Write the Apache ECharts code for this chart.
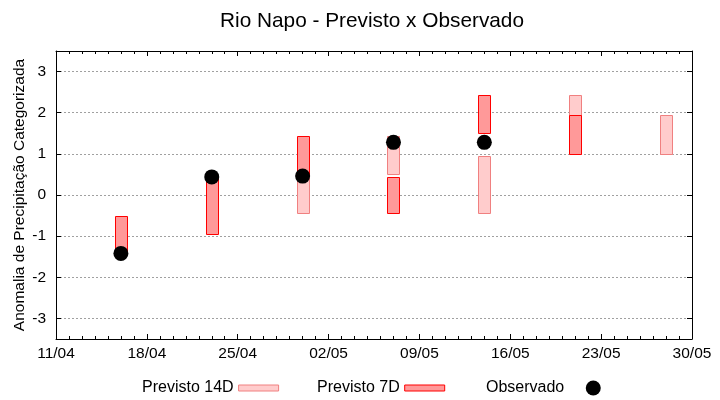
<!DOCTYPE html>
<html><head><meta charset="utf-8">
<script src="https://cdn.jsdelivr.net/npm/echarts@6/dist/echarts.min.js"></script>
<style>html,body{margin:0;padding:0;background:#fff}#c{width:720px;height:400px}</style>
</head><body><div id="c"></div>
<script>
// ---- data ----
const startDate = '11/04';
const xTickLabels = ['11/04','18/04','25/04','02/05','09/05','16/05','23/05','30/05'];
const dates = ['16/04','23/04','30/04','07/05','14/05','21/05','28/05'];
const prev14Low  = [null, null, -0.45, 0.50, -0.44, 1.00, 1.00];
const prev14High = [null, null,  0.45, 1.43,  0.94, 2.43, 1.94];
const prev7Low   = [-1.40, -0.96, 0.45, -0.45, 1.50, 1.00, null];
const prev7High  = [-0.50,  0.45, 1.43,  0.43, 2.43, 1.94, null];
const observed   = [-1.42, 0.44, 0.46, 1.28, 1.28, null, null];

function dayIndex(s){
  const a = s.split('/').map(Number), b = startDate.split('/').map(Number);
  return Math.round((Date.UTC(2024, a[1]-1, a[0]) - Date.UTC(2024, b[1]-1, b[0])) / 86400000);
}
const xMax = dayIndex(xTickLabels[xTickLabels.length-1]);

function rangeData(lo, hi){
  const out = [];
  dates.forEach((d,i)=>{ if(lo[i]!=null && hi[i]!=null) out.push([dayIndex(d), lo[i], hi[i]]); });
  return out;
}
const obsData = [];
dates.forEach((d,i)=>{ if(observed[i]!=null) obsData.push([dayIndex(d), observed[i]]); });

function barRenderer(fill, stroke){
  return function(params, api){
    const x = api.value(0), lo = api.value(1), hi = api.value(2);
    const p1 = api.coord([x, hi]), p2 = api.coord([x, lo]);
    const w = api.size([1,0])[0]*0.93;
    return {type:'rect', shape:{x:Math.round(p1[0]-w/2)+0.5, y:Math.round(p1[1])+0.5, width:Math.round(w), height:Math.round(p2[1]-p1[1])},
            style:{fill:fill, stroke:stroke, lineWidth:1}};
  };
}

const FONT = 'Liberation Sans, Arial, sans-serif';
const c14 = {fill:'#ffcccc', stroke:'#f08080'};
const c7 = {fill:'#ff9999', stroke:'#ff0000'};

const xCommon = {
  type:'value', min:0, max:xMax, interval:7,
  axisLine:{show:true, onZero:false, lineStyle:{color:'#000', width:1}},
  axisTick:{show:true, inside:true, length:5, lineStyle:{color:'#000'}},
  minorTick:{show:true, splitNumber:7, length:3, lineStyle:{color:'#000'}},
  splitLine:{show:false}, minorSplitLine:{show:false}
};
const yCommon = {
  type:'value', min:-3.5, max:3.5, splitNumber:7,
  axisLine:{show:true, onZero:false, lineStyle:{color:'#000', width:1}},
  axisTick:{show:true, inside:true, length:5, lineStyle:{color:'#000'}}
};

const chart = echarts.init(document.getElementById('c'), null, {renderer:'canvas'});
chart.setOption({
  animation:false,
  backgroundColor:'#fff',
  textStyle:{fontFamily:FONT},
  title:{text:'Rio Napo - Previsto x Observado', left:367, textAlign:'center', top:6,
         textStyle:{fontFamily:FONT, fontSize:20.8, fontWeight:'normal', color:'#000'}},
  grid:{left:56, right:28, top:51, bottom:61, outerBoundsMode:'none', containLabel:false},
  legend:[
    {left:142, top:380, padding:0, align:'right', itemWidth:40, itemHeight:6, selectedMode:false,
     textStyle:{fontFamily:FONT, fontSize:16, color:'#000'},
     data:[{name:'Previsto 14D', icon:'rect', itemStyle:{color:c14.fill, borderColor:c14.stroke, borderWidth:1}}]},
    {left:317, top:380, padding:0, align:'right', itemWidth:40, itemHeight:6, selectedMode:false,
     textStyle:{fontFamily:FONT, fontSize:16, color:'#000'},
     data:[{name:'Previsto 7D', icon:'rect', itemStyle:{color:c7.fill, borderColor:c7.stroke, borderWidth:1}}]},
    {left:486, top:380, padding:0, align:'right', itemWidth:48, itemHeight:15, selectedMode:false,
     textStyle:{fontFamily:FONT, fontSize:16, color:'#000'},
     data:[{name:'Observado', icon:'circle', itemStyle:{color:'#000', opacity:1}}]}
  ],
  xAxis:[
    Object.assign({}, xCommon, {position:'bottom',
      axisLabel:{show:true, margin:7, color:'#000', fontFamily:FONT, fontSize:15.5,
                 formatter:v => xTickLabels[Math.round(v/7)] || ''}}),
    Object.assign({}, xCommon, {position:'top', axisLabel:{show:false}})
  ],
  yAxis:[
    Object.assign({}, yCommon, {position:'left',
      name:'Anomalia de Precipitação Categorizada', nameLocation:'middle', nameGap:28, nameMoveOverlap:false,
      nameTextStyle:{fontFamily:FONT, fontSize:15.5, color:'#000'},
      axisLabel:{show:true, margin:10, color:'#000', fontFamily:FONT, fontSize:15.5,
                 showMinLabel:false, showMaxLabel:false,
                 formatter:v => Number.isInteger(v) ? String(v) : ''},
      splitLine:{show:true, lineStyle:{color:'#a0a0a0', type:[2,2], width:1}}}),
    Object.assign({}, yCommon, {position:'right', axisLabel:{show:false}, splitLine:{show:false}})
  ],
  series:[
    {name:'Previsto 14D', type:'custom', xAxisIndex:0, yAxisIndex:0, encode:{x:0, y:[1,2]},
     itemStyle:{color:c14.fill, borderColor:c14.stroke}, renderItem:barRenderer(c14.fill, c14.stroke),
     data:rangeData(prev14Low, prev14High), z:2},
    {name:'Previsto 7D', type:'custom', xAxisIndex:0, yAxisIndex:0, encode:{x:0, y:[1,2]},
     itemStyle:{color:c7.fill, borderColor:c7.stroke}, renderItem:barRenderer(c7.fill, c7.stroke),
     data:rangeData(prev7Low, prev7High), z:3},
    {name:'Observado', type:'scatter', xAxisIndex:0, yAxisIndex:0, symbol:'circle', symbolSize:15,
     itemStyle:{color:'#000', opacity:1}, data:obsData, z:4}
  ]
});
</script></body></html>
